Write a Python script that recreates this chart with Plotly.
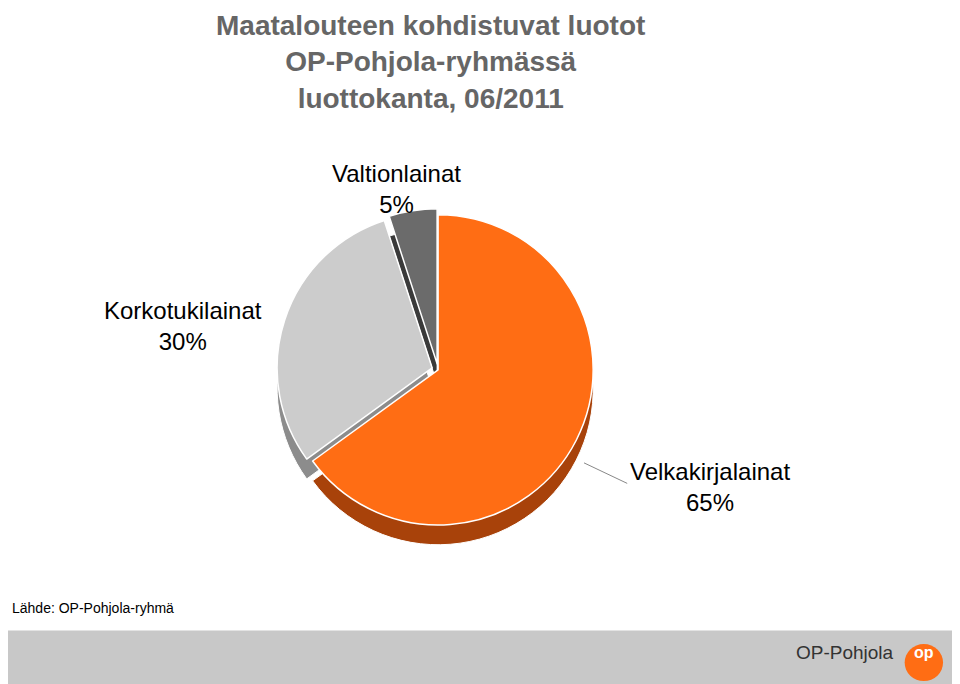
import plotly.graph_objects as go

labels = ["Velkakirjalainat", "Korkotukilainat", "Valtionlainat"]
values = [65, 30, 5]
colors = ["#FF6D14", "#CCCCCC", "#6B6B6B"]
side_colors = ["#A8420A", "#8C8C8C", "#3A3A3A"]
pulls = [0.0, 0.04, 0.04]

fig = go.Figure()
# darker copy shifted down for the 3D rim
fig.add_trace(go.Pie(labels=labels, values=values, sort=False, direction="clockwise",
                     marker=dict(colors=side_colors, line=dict(color="white", width=1)),
                     pull=pulls, textinfo="none", hoverinfo="skip", showlegend=False,
                     domain=dict(x=[0.28, 0.616], y=[0.203, 0.681])))
fig.add_trace(go.Pie(labels=labels, values=values, sort=False, direction="clockwise",
                     marker=dict(colors=colors, line=dict(color="white", width=1.5)),
                     pull=pulls, textinfo="none", showlegend=False,
                     domain=dict(x=[0.28, 0.616], y=[0.232, 0.71])))

font = dict(family="Liberation Sans, Arial", size=24, color="black")
fig.add_annotation(x=0.405, y=0.69, text="Valtionlainat<br>5%", showarrow=False, font=font,
                   xref="paper", yref="paper", xanchor="center", yanchor="bottom")
fig.add_annotation(x=0.182, y=0.49, text="Korkotukilainat<br>30%", showarrow=False, font=font,
                   xref="paper", yref="paper", xanchor="center", yanchor="bottom")
fig.add_annotation(x=0.731, y=0.255, text="Velkakirjalainat<br>65%", showarrow=False, font=font,
                   xref="paper", yref="paper", xanchor="center", yanchor="bottom")
fig.add_shape(type="line", xref="paper", yref="paper", x0=0.6, y0=0.335, x1=0.645, y1=0.305,
              line=dict(color="#888888", width=1))

fig.add_annotation(x=0.44, y=1.0, xref="paper", yref="paper", xanchor="center", yanchor="top",
                   showarrow=False,
                   text="Maatalouteen kohdistuvat luotot<br>OP-Pohjola-ryhmässä<br>luottokanta, 06/2011",
                   font=dict(family="Liberation Sans, Arial", size=28, color="#666666", weight="bold"))

fig.add_annotation(x=0.002, y=0.108, xref="paper", yref="paper", xanchor="left", showarrow=False,
                   text="Lähde: OP-Pohjola-ryhmä", font=dict(family="Liberation Sans, Arial", size=14, color="black"))

fig.add_shape(type="rect", xref="paper", yref="paper", x0=-0.02, x1=1.02, y0=-0.02, y1=0.09,
              fillcolor="#C8C8C8", line=dict(width=0), layer="below")
fig.add_annotation(x=0.872, y=0.04, xref="paper", yref="paper", xanchor="center", showarrow=False,
                   text="OP-Pohjola", font=dict(family="Liberation Sans, Arial", size=19, color="#333333"))
fig.add_shape(type="circle", xref="paper", yref="paper", x0=0.934, x1=0.974, y0=0.016, y1=0.07,
              fillcolor="#FF6D14", line=dict(width=0))
fig.add_annotation(x=0.954, y=0.043, xref="paper", yref="paper", xanchor="center", showarrow=False,
                   text="<b>op</b>", font=dict(family="Liberation Sans, Arial", size=16, color="white"))

fig.update_layout(width=960, height=684, margin=dict(l=0, r=0, t=0, b=0),
                  paper_bgcolor="white", plot_bgcolor="white")
fig.write_html("out.html")
